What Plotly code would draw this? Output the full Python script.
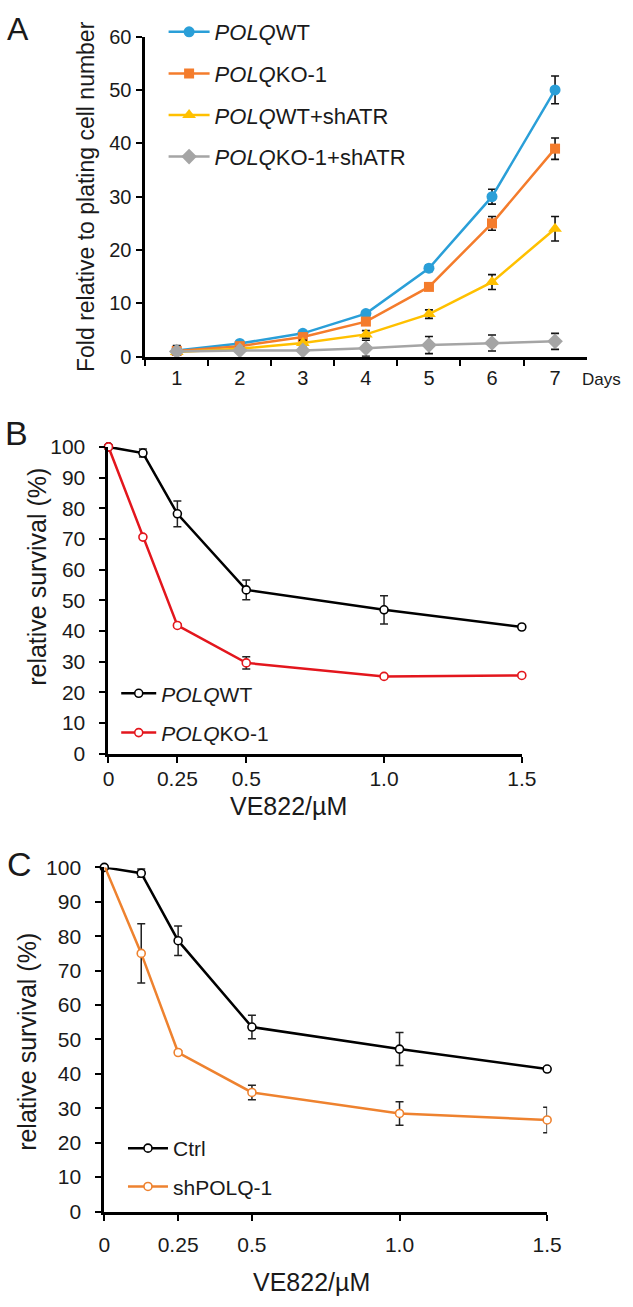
import plotly.graph_objects as go

W, H = 633, 1307
FONT = "Arial, Liberation Sans, sans-serif"

# ---------------- Panel A data ----------------
days = ["1", "2", "3", "4", "5", "6", "7"]
a_names = ["<i>POLQ</i>WT", "<i>POLQ</i>KO-1", "<i>POLQ</i>WT+shATR", "<i>POLQ</i>KO-1+shATR"]
a_wt = [1.2, 2.5, 4.4, 8.1, 16.6, 30.0, 50.0]
a_wt_err = [0.9, 0.4, 0.4, 0.5, 0.6, 1.4, 2.6]
a_ko = [1.1, 2.0, 3.7, 6.6, 13.1, 25.0, 39.0]
a_ko_err = [0.8, 0.5, 0.5, 0.6, 0.6, 1.3, 2.0]
a_wt_sh = [0.9, 1.5, 2.6, 4.2, 8.0, 14.0, 24.0]
a_wt_sh_err = [0.5, 0.3, 0.5, 0.7, 0.8, 1.4, 2.3]
a_ko_sh = [1.0, 1.2, 1.2, 1.6, 2.2, 2.6, 2.9]
a_ko_sh_err = [0.5, 0.3, 0.4, 1.5, 1.6, 1.5, 1.5]
a_yticks = [0, 10, 20, 30, 40, 50, 60]

# ---------------- Panel B / C data ----------------
doses = [0, 0.125, 0.25, 0.5, 1.0, 1.5]
dose_tickvals = [0, 0.25, 0.5, 1.0, 1.5]
dose_ticktext = ["0", "0.25", "0.5", "1.0", "1.5"]
surv_yticks = [0, 10, 20, 30, 40, 50, 60, 70, 80, 90, 100]

b_names = ["<i>POLQ</i>WT", "<i>POLQ</i>KO-1"]
b_wt = [100, 98.0, 78.2, 53.4, 46.9, 41.3]
b_wt_err = [0, 1.3, 4.2, 3.2, 4.6, 0.5]
b_ko = [100, 70.6, 41.8, 29.6, 25.2, 25.5]
b_ko_err = [0, 0.5, 0.5, 2.0, 0.5, 0.5]

c_names = ["Ctrl", "shPOLQ-1"]
c_ctrl = [100, 98.3, 78.7, 53.6, 47.2, 41.4]
c_ctrl_err = [0, 1.2, 4.3, 3.4, 4.8, 0.5]
c_sh = [100.5, 75.0, 46.2, 34.6, 28.5, 26.6]
c_sh_err = [0, 8.6, 0.5, 2.1, 3.4, 3.7]


def px_x(x):
    return x / W


def px_y(y):
    return 1 - y / H


fig = go.Figure()

# Panel A traces
a_series = [
    (a_names[0], a_wt, a_wt_err, "#2A9FD8", "circle", 11),
    (a_names[1], a_ko, a_ko_err, "#F47C2C", "square", 10),
    (a_names[2], a_wt_sh, a_wt_sh_err, "#FFC000", "triangle-up", 12),
    (a_names[3], a_ko_sh, a_ko_sh_err, "#A5A5A5", "diamond", 12),
]
for i, (name, vals, err, col, sym, sz) in enumerate(a_series):
    fig.add_trace(go.Scatter(
        x=days, y=vals, name=name, mode="lines+markers",
        line=dict(color=col, width=2.5),
        marker=dict(color=col, symbol=sym, size=sz, line=dict(width=0)),
        error_y=dict(type="data", array=err, color="#111111", thickness=1.6, width=4),
        xaxis="x", yaxis="y", legend="legend", legendgroup="a%d" % i,
        cliponaxis=False,
    ))

# Panel B traces
for i, (name, vals, err, col) in enumerate([
    (b_names[0], b_wt, b_wt_err, "#000000"),
    (b_names[1], b_ko, b_ko_err, "#E3161D"),
]):
    fig.add_trace(go.Scatter(
        x=doses, y=vals, name=name, mode="lines+markers",
        line=dict(color=col, width=2.5),
        marker=dict(color="white", symbol="circle", size=8, line=dict(color=col, width=1.6)),
        error_y=dict(type="data", array=err, color="#222222", thickness=1.5, width=4),
        xaxis="x2", yaxis="y2", legend="legend2", legendgroup="b%d" % i,
        cliponaxis=False,
    ))

# Panel C traces
for i, (name, vals, err, col) in enumerate([
    (c_names[0], c_ctrl, c_ctrl_err, "#000000"),
    (c_names[1], c_sh, c_sh_err, "#EE822F"),
]):
    fig.add_trace(go.Scatter(
        x=doses, y=vals, name=name, mode="lines+markers",
        line=dict(color=col, width=2.5),
        marker=dict(color="white", symbol="circle", size=8, line=dict(color=col, width=1.6)),
        error_y=dict(type="data", array=err, color="#222222", thickness=1.5, width=4),
        xaxis="x3", yaxis="y3", legend="legend3", legendgroup="c%d" % i,
        cliponaxis=False,
    ))

tickfont = dict(family=FONT, size=20, color="#1a1a1a")
tickfont_bc = dict(family=FONT, size=21, color="#1a1a1a")

common_axis = dict(showgrid=False, zeroline=False, showline=True, linecolor="black",
                   ticks="outside", tickcolor="black", fixedrange=True)

layout = dict(
    width=W, height=H,
    margin=dict(l=0, r=0, t=0, b=0),
    paper_bgcolor="white", plot_bgcolor="white",
    font=dict(family=FONT, color="#1a1a1a"),
    showlegend=True,
    # Panel A axes
    xaxis=dict(common_axis, type="category", categoryorder="array", categoryarray=days,
               domain=[px_x(144), px_x(600.5)], range=[-0.5, 6.5],
               tickson="boundaries", ticklen=6, tickwidth=2, linewidth=2.5,
               tickfont=tickfont, anchor="y", ticklabelstandoff=1),
    yaxis=dict(common_axis, domain=[px_y(351), px_y(25)], range=[0, 60],
               tickvals=a_yticks, ticklen=6, tickwidth=2, linewidth=2.5,
               tickfont=tickfont, anchor="x", ticklabelstandoff=1),
    # Panel B axes
    xaxis2=dict(common_axis, domain=[px_x(106), px_x(533.5)], range=[0, 1.5],
                tickvals=dose_tickvals, ticktext=dose_ticktext, ticklen=6, tickwidth=2,
                linewidth=3, tickfont=tickfont_bc, anchor="y2", ticklabelstandoff=-2),
    yaxis2=dict(common_axis, domain=[px_y(755), px_y(442.7)], range=[0, 100],
                tickvals=surv_yticks, ticklen=6, tickwidth=2, linewidth=3,
                tickfont=tickfont_bc, anchor="x2", ticklabelstandoff=10),
    # Panel C axes
    xaxis3=dict(common_axis, domain=[px_x(101.7), px_x(559.7)], range=[0, 1.5],
                tickvals=dose_tickvals, ticktext=dose_ticktext, ticklen=6, tickwidth=2,
                linewidth=3, tickfont=tickfont_bc, anchor="y3", ticklabelstandoff=6),
    yaxis3=dict(common_axis, domain=[px_y(1221), px_y(870.7)], range=[0, 100],
                tickvals=surv_yticks, ticklen=6, tickwidth=2, linewidth=3,
                tickfont=tickfont_bc, anchor="x3", ticklabelstandoff=10),
    legend=dict(x=px_x(163), y=px_y(-1), xanchor="left", yanchor="top",
                bgcolor="rgba(0,0,0,0)", font=dict(family=FONT, size=22, color="#1a1a1a"),
                itemwidth=41, tracegroupgap=10),
    legend2=dict(x=px_x(114), y=px_y(673), xanchor="left", yanchor="top",
                 bgcolor="rgba(0,0,0,0)", font=dict(family=FONT, size=21, color="#1a1a1a"),
                 itemwidth=35, tracegroupgap=9),
    legend3=dict(x=px_x(121), y=px_y(1136), xanchor="left", yanchor="top",
                 bgcolor="rgba(0,0,0,0)", font=dict(family=FONT, size=21, color="#1a1a1a"),
                 itemwidth=40, tracegroupgap=8),
)
fig.update_layout(**layout)

annos = [
    # panel letters
    dict(text="A", x=px_x(12), y=px_y(17), font=dict(size=32)),
    dict(text="B", x=px_x(11), y=px_y(429), font=dict(size=34)),
    dict(text="C", x=px_x(14), y=px_y(867), font=dict(size=34)),
    # axis titles
    dict(text="Fold relative to plating cell number", x=px_x(82), y=px_y(188),
         textangle=-90, font=dict(size=23)),
    dict(text="Days", x=px_x(594), y=px_y(374), xanchor="left", font=dict(size=17)),
    dict(text="relative survival (%)", x=px_x(32), y=px_y(575), textangle=-90, font=dict(size=25)),
    dict(text="VE822/µM", x=px_x(292), y=px_y(808), font=dict(size=25)),
    dict(text="relative survival (%)", x=px_x(21), y=px_y(1048), textangle=-90, font=dict(size=25)),
    dict(text="VE822/µM", x=px_x(316), y=px_y(1293), font=dict(size=25)),
]
for a in annos:
    a.setdefault("xanchor", "center")
    a.update(xref="paper", yref="paper", yanchor="middle", showarrow=False)
    a["font"] = dict(family=FONT, color="#1a1a1a", **a["font"])
    fig.add_annotation(**a)

fig.write_html("out.html", config={"displayModeBar": False},
               post_script="document.body.style.margin='0';")
